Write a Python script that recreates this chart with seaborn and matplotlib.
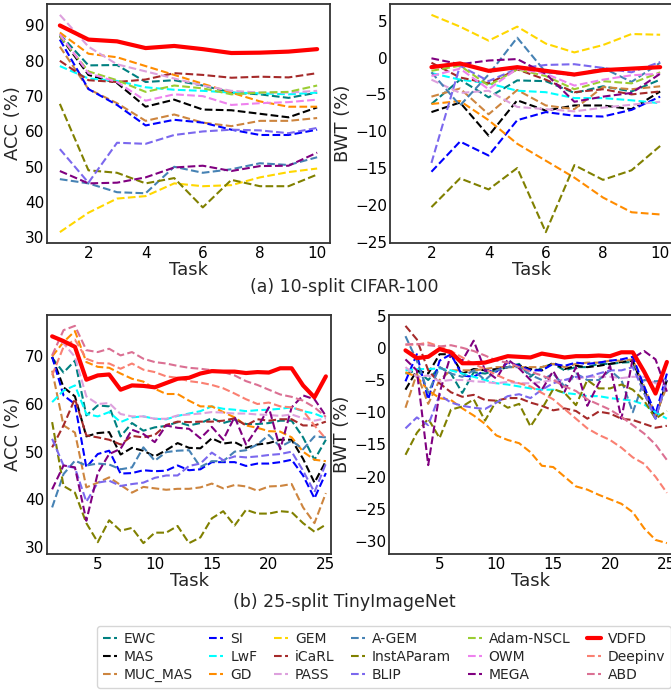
import numpy as np
import pandas as pd
import matplotlib
matplotlib.use("Agg")
import matplotlib.pyplot as plt
from matplotlib.lines import Line2D
import seaborn as sns

# ---------------- data ----------------
methods = ["EWC", "MAS", "MUC_MAS", "SI", "LwF", "GD", "GEM", "iCaRL", "PASS",
           "A-GEM", "InstAParam", "BLIP", "Adam-NSCL", "OWM", "MEGA",
           "VDFD", "Deepinv", "ABD"]
colors = ["teal", "black", "peru", "blue", "cyan", "darkorange", "gold", "brown",
          "plum", "steelblue", "olive", "mediumslateblue", "yellowgreen", "violet",
          "purple", "red", "salmon", "palevioletred"]

tasks_c = list(range(1, 11))
tasks_c_bwt = list(range(2, 11))
tasks_t = list(range(1, 26))
tasks_t_bwt = list(range(2, 26))

# (a) 10-split CIFAR-100, ACC
c_acc_EWC = [87.5, 78.7, 78.8, 74.0, 74.5, 73.0, 71.0, 70.5, 69.5, 71.0]
c_acc_MAS = [87.0, 76.0, 73.7, 67.0, 69.0, 66.2, 66.0, 65.0, 64.0, 66.8]
c_acc_MUC_MAS = [84.0, 72.0, 68.0, 63.0, 64.8, 62.5, 61.5, 63.0, 63.0, 63.8]
c_acc_SI = [86.0, 72.0, 67.5, 61.7, 63.3, 62.5, 60.5, 59.0, 59.0, 60.5]
c_acc_LwF = [78.5, 75.0, 74.3, 72.5, 71.8, 71.5, 71.0, 70.8, 70.5, 71.0]
c_acc_GD = [88.0, 82.0, 81.0, 78.5, 76.0, 73.5, 71.0, 68.5, 67.0, 67.0]
c_acc_GEM = [31.5, 37.0, 41.0, 41.7, 45.3, 44.5, 44.8, 47.0, 48.5, 49.5]
c_acc_iCaRL = [80.0, 74.5, 74.0, 74.7, 76.5, 76.0, 75.2, 75.5, 75.3, 76.5]
c_acc_PASS = [93.0, 84.0, 79.0, 77.0, 75.0, 73.0, 71.5, 71.0, 71.0, 71.5]
c_acc_AGEM = [46.5, 45.3, 42.8, 42.5, 50.0, 48.3, 49.3, 51.0, 50.5, 52.7]
c_acc_InstAParam = [67.8, 49.0, 48.3, 45.3, 46.8, 38.5, 46.3, 44.5, 44.5, 47.8]
c_acc_BLIP = [55.0, 45.5, 56.8, 56.5, 59.0, 60.0, 60.5, 60.3, 59.5, 61.0]
c_acc_AdamNSCL = [87.0, 77.0, 74.5, 71.2, 73.0, 72.2, 70.5, 71.0, 71.2, 73.0]
c_acc_OWM = [87.5, 76.5, 74.0, 68.7, 70.5, 70.0, 67.5, 68.0, 68.3, 69.0]
c_acc_MEGA = [48.8, 45.3, 45.5, 47.0, 49.8, 50.3, 48.8, 50.2, 50.3, 54.0]
c_acc_VDFD = [90.0, 86.0, 85.5, 83.6, 84.2, 83.3, 82.2, 82.3, 82.6, 83.3]

# (a) 10-split CIFAR-100, BWT
c_bwt_EWC = [-6.3, -3.0, -5.4, -3.1, -3.2, -4.8, -3.9, -4.6, -3.0]
c_bwt_MAS = [-7.4, -6.1, -10.6, -5.8, -7.2, -6.5, -6.5, -7.0, -4.6]
c_bwt_MUC_MAS = [-5.3, -4.2, -7.7, -4.4, -6.5, -7.0, -4.0, -4.3, -3.9]
c_bwt_SI = [-15.5, -11.4, -13.3, -8.5, -7.4, -7.9, -8.0, -7.1, -5.3]
c_bwt_LwF = [-2.1, -3.0, -3.5, -4.5, -4.7, -5.5, -5.5, -5.8, -6.2]
c_bwt_GD = [-6.3, -5.9, -8.5, -11.7, -14.0, -16.3, -19.0, -21.0, -21.3]
c_bwt_GEM = [5.8, 4.2, 2.3, 4.2, 1.9, 0.7, 1.7, 3.2, 3.1]
c_bwt_iCaRL = [-0.7, -2.7, -3.5, -1.6, -3.0, -4.7, -4.3, -5.0, -4.6]
c_bwt_PASS = [-3.0, -4.8, -4.5, -6.7, -7.0, -7.3, -6.8, -6.4, -6.0]
c_bwt_AGEM = [-2.0, -6.5, -2.3, 2.7, -2.0, -2.4, -1.4, -3.3, -0.7]
c_bwt_InstAParam = [-20.3, -16.4, -17.9, -15.0, -23.7, -14.6, -16.6, -15.3, -12.0]
c_bwt_BLIP = [-14.3, -1.1, -3.2, -1.5, -1.0, -0.9, -1.4, -2.0, -0.6]
c_bwt_AdamNSCL = [-1.8, -1.1, -3.8, -1.6, -2.5, -4.3, -3.2, -3.5, -2.0]
c_bwt_OWM = [-2.5, -1.5, -4.3, -1.5, -2.2, -3.8, -3.0, -2.4, -2.2]
c_bwt_MEGA = [-0.1, -0.9, -0.4, -0.2, -2.2, -6.0, -5.3, -4.8, -2.2]
c_bwt_VDFD = [-1.3, -0.8, -1.8, -1.3, -1.8, -2.3, -1.7, -1.5, -1.3]

# (b) 25-split TinyImageNet, ACC
t_acc_EWC = [69.7, 66.6, 69.1, 57.6, 59.7, 59.5, 53.2, 56.0, 54.4, 55.1, 55.4, 56.2, 55.5, 56.0, 57.0,
             56.0, 56.7, 55.8, 55.8, 56.0, 56.5, 56.5, 53.0, 48.3, 52.5]
t_acc_MAS = [69.9, 63.5, 61.6, 53.2, 53.9, 54.1, 49.4, 50.8, 50.2, 49.0, 50.3, 51.8, 50.8, 50.7, 52.8,
             51.7, 52.0, 50.8, 51.5, 51.8, 52.5, 52.5, 48.5, 43.5, 48.0]
t_acc_MUC_MAS = [67.0, 55.5, 54.0, 42.5, 43.5, 44.6, 43.0, 41.4, 42.6, 42.3, 42.0, 42.2, 42.2, 42.5, 43.3,
                 42.3, 43.0, 42.7, 41.8, 42.7, 42.8, 43.2, 38.3, 35.0, 41.3]
t_acc_SI = [69.9, 61.8, 60.0, 46.7, 49.5, 50.2, 45.4, 45.5, 46.1, 45.9, 46.0, 47.1, 46.1, 46.3, 47.8,
            47.8, 47.8, 47.0, 47.5, 47.5, 47.8, 48.3, 45.0, 40.2, 45.5]
t_acc_LwF = [60.4, 62.8, 63.9, 57.9, 57.4, 58.3, 56.2, 57.2, 57.4, 56.9, 56.8, 57.5, 58.0, 58.5, 59.5,
             59.0, 58.8, 58.5, 58.7, 58.8, 59.0, 59.3, 58.5, 58.0, 57.0]
t_acc_GD = [70.0, 73.0, 75.3, 68.8, 67.8, 67.6, 66.4, 65.3, 64.7, 63.2, 62.1, 62.1, 60.7, 59.5, 59.5,
            58.3, 57.2, 55.5, 55.0, 54.3, 54.2, 53.0, 50.0, 48.3, 48.0]
t_acc_iCaRL = [50.9, 55.5, 61.1, 53.4, 53.0, 52.5, 51.5, 53.3, 53.0, 53.5, 55.6, 56.3, 56.2, 56.3, 56.3,
               56.5, 57.0, 55.5, 56.8, 56.5, 56.8, 56.8, 55.5, 55.5, 56.3]
t_acc_PASS = [74.4, 72.7, 69.9, 61.6, 60.0, 60.2, 57.9, 57.4, 57.4, 56.9, 56.9, 57.6, 57.8, 58.0, 58.3,
              58.2, 58.0, 58.0, 57.8, 57.7, 57.5, 57.8, 57.0, 56.5, 57.0]
t_acc_AGEM = [38.3, 45.3, 48.1, 47.1, 47.5, 47.3, 46.3, 46.7, 50.9, 48.1, 49.9, 50.2, 50.3, 46.8, 48.0,
              48.0, 50.0, 50.3, 51.5, 53.5, 51.0, 52.3, 50.5, 53.2, 53.0]
t_acc_InstAParam = [56.2, 42.8, 41.4, 35.0, 31.0, 35.6, 33.4, 34.0, 30.8, 33.0, 33.0, 34.4, 30.8, 32.0, 36.0,
                    37.5, 34.5, 37.8, 37.0, 37.0, 37.5, 37.3, 35.0, 33.2, 34.7]
t_acc_BLIP = [52.7, 47.1, 46.6, 39.5, 43.5, 43.9, 42.8, 43.2, 43.5, 44.5, 45.0, 45.0, 47.0, 47.5, 49.8,
              48.2, 49.0, 48.8, 49.0, 49.3, 49.5, 50.0, 46.0, 41.5, 47.5]
t_acc_MEGA = [42.1, 47.1, 46.7, 35.5, 45.5, 49.5, 50.6, 54.6, 53.7, 52.0, 55.5, 55.0, 54.8, 52.8, 55.2,
              52.5, 57.3, 51.5, 55.0, 59.3, 50.5, 59.3, 61.8, 61.0, 57.5]
t_acc_VDFD = [74.2, 73.2, 72.0, 65.1, 66.0, 66.2, 63.0, 63.9, 63.8, 63.5, 64.4, 65.3, 65.5, 66.4, 66.9,
              66.8, 66.8, 66.5, 66.7, 66.6, 67.5, 67.5, 63.9, 61.4, 65.8]
t_acc_Deepinv = [66.0, 72.0, 73.5, 69.5, 68.6, 68.5, 67.4, 68.5, 67.2, 66.7, 65.8, 65.5, 64.8, 64.5, 64.0,
                 63.3, 62.2, 61.0, 60.0, 60.3, 59.5, 59.3, 58.6, 55.5, 52.7]
t_acc_ABD = [70.2, 75.5, 76.4, 71.3, 70.9, 71.6, 70.2, 70.9, 69.5, 68.8, 68.5, 68.0, 67.6, 67.4, 67.1,
             66.7, 66.0, 64.8, 64.0, 63.0, 62.0, 61.5, 60.7, 59.3, 57.3]

# (b) 25-split TinyImageNet, BWT
t_bwt_EWC = [-4.0, -3.5, -5.0, -3.0, -4.0, -7.0, -3.8, -4.0, -3.5, -3.0, -2.5, -4.5, -3.0, -2.5, -3.5,
             -3.0, -3.0, -2.5, -2.5, -2.3, -2.2, -7.0, -11.0, -5.0]
t_bwt_MAS = [-6.5, -3.5, -4.0, -1.0, -1.0, -4.0, -3.3, -3.5, -3.3, -3.0, -2.7, -3.3, -3.5, -2.3, -3.3,
             -2.8, -3.0, -2.8, -2.5, -2.2, -2.0, -6.5, -11.0, -5.0]
t_bwt_MUC_MAS = [-9.3, -4.0, -8.7, -5.0, -3.5, -3.5, -3.5, -3.3, -3.0, -3.0, -3.0, -3.0, -3.0, -2.5, -3.0,
                 -2.5, -2.3, -2.3, -2.0, -2.0, -1.8, -6.0, -10.5, -6.0]
t_bwt_SI = [-5.2, -1.0, -8.0, -2.0, -1.0, -4.3, -4.5, -3.5, -3.7, -2.3, -2.8, -3.5, -3.5, -2.5, -2.8,
            -2.3, -2.5, -2.3, -2.0, -1.8, -1.4, -6.0, -10.3, -4.0]
t_bwt_LwF = [-3.5, -3.3, -3.3, -3.2, -3.5, -4.0, -4.5, -5.0, -5.5, -5.7, -6.0, -6.3, -6.5, -6.5, -7.0,
             -7.2, -7.5, -7.5, -7.8, -8.0, -8.2, -8.8, -10.0, -11.0]
t_bwt_GD = [-3.8, -4.5, -6.6, -7.8, -8.1, -9.4, -10.5, -11.8, -13.6, -14.3, -14.8, -16.2, -18.3, -18.5, -20.0,
            -21.5, -22.0, -22.8, -23.5, -24.2, -25.5, -28.0, -29.8, -30.3]
t_bwt_iCaRL = [3.4, 1.3, -3.5, -5.5, -6.9, -7.6, -7.3, -8.1, -8.2, -7.8, -7.8, -8.5, -9.0, -9.7, -9.4,
               -9.8, -11.0, -9.9, -10.2, -11.0, -11.2, -11.8, -12.4, -12.1]
t_bwt_PASS = [-3.0, -4.5, -4.3, -5.2, -5.0, -5.0, -5.2, -5.3, -5.5, -5.3, -5.5, -5.5, -5.3, -5.0, -5.0,
              -4.8, -4.5, -4.5, -4.5, -4.7, -4.5, -4.5, -5.5, -6.0]
t_bwt_AGEM = [1.8, -2.0, -7.0, -3.0, -4.0, -4.5, -3.5, -5.0, -3.5, -3.0, -3.0, -4.2, -5.0, -4.0, -6.0,
              -4.0, -5.0, -5.0, -3.5, -5.0, -10.0, -5.0, -5.2, -5.0]
t_bwt_InstAParam = [-16.6, -13.2, -11.0, -14.0, -9.6, -9.1, -8.0, -11.3, -8.2, -9.3, -8.7, -12.2, -9.5, -6.4, -7.0,
                    -8.9, -5.0, -6.3, -6.3, -5.7, -6.5, -8.2, -11.0, -9.8]
t_bwt_BLIP = [-12.5, -10.8, -12.0, -7.3, -8.5, -9.0, -9.3, -9.5, -8.5, -7.5, -7.2, -7.8, -6.5, -5.5, -5.0,
              -4.5, -4.5, -4.0, -3.5, -3.5, -3.0, -7.0, -11.0, -5.0]
t_bwt_MEGA = [-1.8, -3.5, -18.2, -7.0, -1.0, -2.0, 1.1, -3.5, -4.8, -1.8, -3.2, -5.0, -6.5, -3.6, -6.8,
              -3.0, -9.0, -5.5, -2.8, -11.0, -1.6, -0.5, -1.8, -6.8]
t_bwt_VDFD = [-0.4, -1.6, -1.4, -0.2, -0.7, -2.4, -2.4, -2.3, -1.8, -1.3, -1.4, -1.5, -0.9, -1.2, -1.5,
              -1.3, -1.3, -1.2, -1.3, -0.7, -0.7, -3.7, -7.1, -2.2]
t_bwt_Deepinv = [0.5, 0.5, 0.8, 0.2, -0.5, -1.5, -2.5, -3.3, -4.2, -5.0, -5.5, -6.0, -7.0, -8.0, -9.5,
                 -11.0, -12.5, -13.5, -14.3, -15.5, -17.0, -18.0, -20.0, -22.5]
t_bwt_ABD = [0.5, 0.6, 0.4, 0.2, 0.4, 0.0, -0.5, -1.2, -2.0, -2.3, -3.0, -3.7, -4.3, -5.0, -6.0,
             -6.7, -8.0, -8.8, -9.6, -10.7, -12.0, -13.3, -15.0, -17.4]

panel_a_acc = {"EWC": c_acc_EWC, "MAS": c_acc_MAS, "MUC_MAS": c_acc_MUC_MAS, "SI": c_acc_SI,
               "LwF": c_acc_LwF, "GD": c_acc_GD, "GEM": c_acc_GEM, "iCaRL": c_acc_iCaRL,
               "PASS": c_acc_PASS, "A-GEM": c_acc_AGEM, "InstAParam": c_acc_InstAParam,
               "BLIP": c_acc_BLIP, "Adam-NSCL": c_acc_AdamNSCL, "OWM": c_acc_OWM,
               "MEGA": c_acc_MEGA, "VDFD": c_acc_VDFD}
panel_a_bwt = {"EWC": c_bwt_EWC, "MAS": c_bwt_MAS, "MUC_MAS": c_bwt_MUC_MAS, "SI": c_bwt_SI,
               "LwF": c_bwt_LwF, "GD": c_bwt_GD, "GEM": c_bwt_GEM, "iCaRL": c_bwt_iCaRL,
               "PASS": c_bwt_PASS, "A-GEM": c_bwt_AGEM, "InstAParam": c_bwt_InstAParam,
               "BLIP": c_bwt_BLIP, "Adam-NSCL": c_bwt_AdamNSCL, "OWM": c_bwt_OWM,
               "MEGA": c_bwt_MEGA, "VDFD": c_bwt_VDFD}
panel_b_acc = {"EWC": t_acc_EWC, "MAS": t_acc_MAS, "MUC_MAS": t_acc_MUC_MAS, "SI": t_acc_SI,
               "LwF": t_acc_LwF, "GD": t_acc_GD, "iCaRL": t_acc_iCaRL, "PASS": t_acc_PASS,
               "A-GEM": t_acc_AGEM, "InstAParam": t_acc_InstAParam, "BLIP": t_acc_BLIP,
               "MEGA": t_acc_MEGA, "Deepinv": t_acc_Deepinv, "ABD": t_acc_ABD, "VDFD": t_acc_VDFD}
panel_b_bwt = {"EWC": t_bwt_EWC, "MAS": t_bwt_MAS, "MUC_MAS": t_bwt_MUC_MAS, "SI": t_bwt_SI,
               "LwF": t_bwt_LwF, "GD": t_bwt_GD, "iCaRL": t_bwt_iCaRL, "PASS": t_bwt_PASS,
               "A-GEM": t_bwt_AGEM, "InstAParam": t_bwt_InstAParam, "BLIP": t_bwt_BLIP,
               "MEGA": t_bwt_MEGA, "Deepinv": t_bwt_Deepinv, "ABD": t_bwt_ABD, "VDFD": t_bwt_VDFD}

# ---------------- style ----------------
sns.set_style("white")
plt.rcParams["font.family"] = ["DejaVu Sans"]
plt.rcParams["axes.edgecolor"] = "#333333"
plt.rcParams["axes.linewidth"] = 1.3

color_map = dict(zip(methods, colors))

W, H = 671, 692
fig = plt.figure(figsize=(W / 100, H / 100), dpi=100)


def px_axes(left, top, right, bottom):
    return fig.add_axes([left / W, 1 - bottom / H, (right - left) / W, (bottom - top) / H])


ax1 = px_axes(47, 4, 330, 243)
ax2 = px_axes(390, 4, 673, 243)
ax3 = px_axes(47, 315, 331, 554)
ax4 = px_axes(389, 315, 672, 554)


def draw(ax, x, series):
    for name, vals in series.items():
        if name == "VDFD":
            continue
        sns.lineplot(x=x, y=vals, ax=ax, color=color_map[name], linestyle="--",
                     linewidth=1.5, legend=False)
    sns.lineplot(x=x, y=series["VDFD"], ax=ax, color="red", linestyle="-",
                 linewidth=3.0, legend=False)


draw(ax1, tasks_c, panel_a_acc)
draw(ax2, tasks_c_bwt, panel_a_bwt)
draw(ax3, tasks_t, panel_b_acc)
draw(ax4, tasks_t_bwt, panel_b_bwt)

ax1.set_xlim(0.55, 10.45)
ax2.set_xlim(0.55, 10.45)
ax3.set_xlim(0.55, 25.45)
ax4.set_xlim(0.55, 25.45)
ax1.set_xticks([2, 4, 6, 8, 10])
ax2.set_xticks([2, 4, 6, 8, 10])
ax3.set_xticks([5, 10, 15, 20, 25])
ax4.set_xticks([5, 10, 15, 20, 25])
ax1.set_yticks([30, 40, 50, 60, 70, 80, 90])
ax2.set_yticks([-25, -20, -15, -10, -5, 0, 5])
ax3.set_yticks([30, 40, 50, 60, 70])
ax4.set_yticks([-30, -25, -20, -15, -10, -5, 0, 5])

for ax, yl in [(ax1, "ACC (%)"), (ax2, "BWT (%)"), (ax3, "ACC (%)"), (ax4, "BWT (%)")]:
    ax.set_ylabel(yl, fontsize=13, labelpad=2)
    ax.set_xlabel("Task", fontsize=13, labelpad=0)
    ax.tick_params(axis="both", labelsize=11, length=0, pad=2, colors="black")
    for s in ax.spines.values():
        s.set_visible(True)

fig.text(344 / W, 1 - 287 / H, "(a) 10-split CIFAR-100", ha="center", va="center", fontsize=12.5)
fig.text(344 / W, 1 - 602 / H, "(b) 25-split TinyImageNet", ha="center", va="center", fontsize=12.5)

handles = []
for name in methods:
    if name == "VDFD":
        handles.append(Line2D([], [], color="red", linestyle="-", linewidth=3.0))
    else:
        handles.append(Line2D([], [], color=color_map[name], linestyle="--", linewidth=1.5))
fig.legend(handles, methods, loc="center", bbox_to_anchor=(384 / W, 1 - 657 / H),
           ncol=6, fontsize=10, handlelength=1.0, handletextpad=0.5, columnspacing=1.2,
           labelspacing=0.3, frameon=True, borderpad=0.4)

fig.savefig("out.png", dpi=100)
